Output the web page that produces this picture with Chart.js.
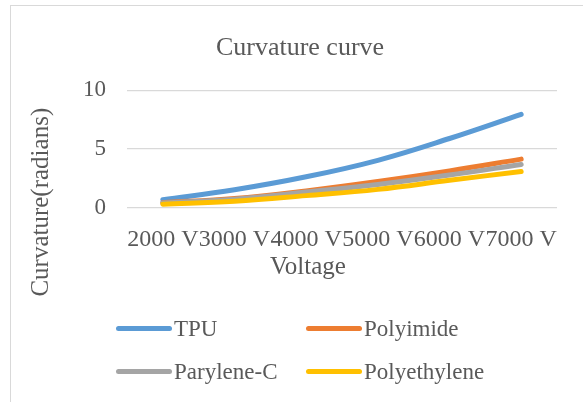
<!DOCTYPE html>
<html>
<head>
<meta charset="utf-8">
<title>Curvature curve</title>
<script src="https://cdn.jsdelivr.net/npm/chart.js@4.4.1/dist/chart.umd.min.js"></script>
<style>
    html, body {
        margin: 0;
        padding: 0;
        width: 583px;
        height: 402px;
        overflow: hidden;
        background: #ffffff;
    }
    #frame {
        position: absolute;
        left: 10px;
        top: 5px;
        width: 578px;
        height: 420px;
        border: 1px solid #d9d9d9;
        background: #ffffff;
    }
    #chartBox {
        position: absolute;
        left: 0;
        top: 0;
        width: 578px;
        height: 300px;
    }
    #legend {
        position: absolute;
        left: 0;
        top: 0;
        width: 578px;
        height: 400px;
        pointer-events: none;
        font-family: 'Liberation Serif', 'Times New Roman', serif;
        font-size: 23px;
        color: #595959;
    }
    .item {
        position: absolute;
        height: 26px;
        line-height: 26px;
        white-space: nowrap;
    }
    .swatch {
        position: absolute;
        left: 0;
        top: 10px;
        width: 56px;
        height: 5px;
        border-radius: 3px;
    }
    .label {
        position: absolute;
        left: 58px;
        top: 0;
    }
</style>
</head>
<body>
<div id="frame">
    <div id="chartBox"><canvas id="curvatureChart"></canvas></div>
    <div id="legend"></div>
</div>
<script>
// Data
const voltages = ['2000 V', '3000 V', '4000 V', '5000 V', '6000 V', '7000 V'];
const tpu = [0.70, 1.55, 2.65, 4.05, 5.90, 7.95];
const polyimide = [0.45, 0.80, 1.45, 2.25, 3.15, 4.15];
const paryleneC = [0.42, 0.75, 1.35, 2.00, 2.80, 3.70];
const polyethylene = [0.32, 0.58, 1.05, 1.58, 2.35, 3.10];
const yTicks = [0, 5, 10];

const textColor = '#595959';
const fontFamily = "'Liberation Serif', 'Times New Roman', serif";

function makeSeries(label, data, color, order) {
    return {
        label: label,
        data: data,
        borderColor: color,
        backgroundColor: color,
        borderWidth: 5,
        borderCapStyle: 'round',
        borderJoinStyle: 'round',
        pointRadius: 0,
        pointHoverRadius: 0,
        tension: 0.4,
        fill: false,
        order: order
    };
}

// Axis titles are placed like Excel does (not centred on the plot)
const axisTitles = {
    id: 'axisTitles',
    afterDraw(chart) {
        const ctx = chart.ctx;
        const area = chart.chartArea;
        ctx.save();
        ctx.fillStyle = textColor;
        ctx.font = '25px ' + fontFamily;
        ctx.textAlign = 'center';
        ctx.textBaseline = 'middle';
        ctx.fillText('Voltage', area.left + 181, area.bottom + 59);
        ctx.translate(30, area.top + 112);
        ctx.rotate(-Math.PI / 2);
        ctx.fillText('Curvature(radians)', 0, 0);
        ctx.restore();
    }
};

function buildLegend(chart) {
    const box = document.getElementById('legend');
    const spots = [
        { x: 105, y: 310 },
        { x: 295, y: 310 },
        { x: 105, y: 353 },
        { x: 295, y: 353 }
    ];
    chart.data.datasets.forEach(function(ds, i) {
        const item = document.createElement('div');
        item.className = 'item';
        item.style.left = spots[i].x + 'px';
        item.style.top = spots[i].y + 'px';
        const sw = document.createElement('span');
        sw.className = 'swatch';
        sw.style.background = ds.borderColor;
        const tx = document.createElement('span');
        tx.className = 'label';
        tx.textContent = ds.label;
        item.appendChild(sw);
        item.appendChild(tx);
        box.appendChild(item);
    });
}

document.addEventListener('DOMContentLoaded', function() {
    const ctx = document.getElementById('curvatureChart').getContext('2d');
    const chart = new Chart(ctx, {
        type: 'line',
        data: {
            labels: voltages,
            datasets: [
                makeSeries('TPU', tpu, '#5b9bd5', 3),
                makeSeries('Polyimide', polyimide, '#ed7d31', 2),
                makeSeries('Parylene-C', paryleneC, '#a5a5a5', 1),
                makeSeries('Polyethylene', polyethylene, '#ffc000', 0)
            ]
        },
        options: {
            responsive: true,
            maintainAspectRatio: false,
            animation: false,
            layout: {
                padding: { left: 32, right: 32, top: 0, bottom: 0 }
            },
            plugins: {
                legend: { display: false },
                tooltip: { enabled: false },
                title: {
                    display: true,
                    text: 'Curvature curve',
                    color: textColor,
                    font: { family: fontFamily, size: 26, weight: 'normal' },
                    padding: { top: 27, bottom: 26 }
                }
            },
            scales: {
                x: {
                    type: 'category',
                    offset: true,
                    grid: { display: false, drawTicks: false },
                    border: { display: false },
                    ticks: {
                        color: textColor,
                        font: { family: fontFamily, size: 24 },
                        padding: 17,
                        maxRotation: 0,
                        minRotation: 0,
                        autoSkip: false
                    },
                    afterFit(scale) {
                        scale.height = 98;
                    }
                },
                y: {
                    min: 0,
                    max: 10,
                    afterBuildTicks(scale) {
                        scale.ticks = yTicks.map(v => ({ value: v }));
                    },
                    grid: {
                        color: '#d9d9d9',
                        lineWidth: 1.3,
                        drawTicks: false
                    },
                    border: { display: false },
                    ticks: {
                        color: textColor,
                        font: { family: fontFamily, size: 23 },
                        padding: 21
                    },
                    afterFit(scale) {
                        scale.width = 84;
                    }
                }
            }
        },
        plugins: [axisTitles]
    });
    buildLegend(chart);
});
</script>
</body>
</html>
